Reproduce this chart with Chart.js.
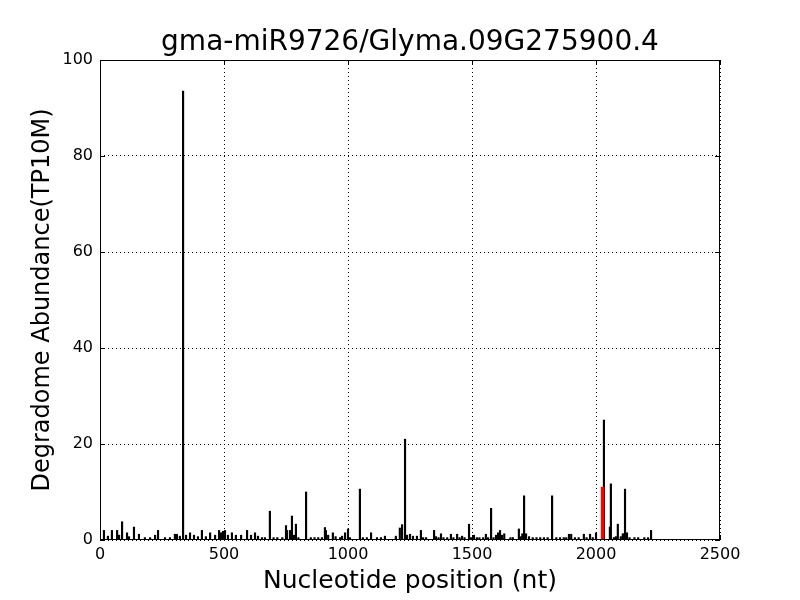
<!DOCTYPE html>
<html>
<head>
<meta charset="utf-8">
<script src="https://cdn.jsdelivr.net/npm/chart.js@4/dist/chart.umd.min.js"></script>
<style>
  html, body { margin: 0; padding: 0; background: #fff; }
  #wrap { width: 800px; height: 600px; }
</style>
</head>
<body>
<div id="wrap"><canvas id="chart" width="800" height="600"></canvas></div>
<script>
// cleavage positions (nt) and degradome abundance (TP10M)
const positions = [16, 32, 48, 69, 77, 89, 109, 117, 137, 157, 181, 202, 222, 234, 262, 282, 302, 310, 322, 335,
  347, 363, 379, 395, 411, 427, 444, 464, 480, 488, 496, 504, 516, 532, 548, 569, 593, 609, 625, 637,
  653, 665, 685, 700, 715, 735, 750, 754, 766, 774, 782, 790, 800, 831, 850, 865, 880, 895, 907, 911,
  920, 939, 950, 968, 976, 988, 1000, 1008, 1048, 1060, 1076, 1093, 1117, 1133, 1149, 1193, 1209, 1218, 1230, 1238,
  1250, 1262, 1278, 1294, 1303, 1315, 1347, 1355, 1365, 1375, 1385, 1400, 1415, 1425, 1440, 1450, 1460, 1470, 1488, 1496,
  1508, 1520, 1530, 1545, 1556, 1565, 1577, 1587, 1597, 1605, 1613, 1621, 1630, 1655, 1665, 1689, 1697, 1703, 1710, 1718,
  1730, 1745, 1760, 1775, 1790, 1805, 1823, 1840, 1855, 1870, 1880, 1891, 1900, 1915, 1930, 1951, 1962, 1976, 1987, 2000,
  2032, 2056, 2060, 2072, 2080, 2088, 2100, 2108, 2113, 2117, 2125, 2135, 2155, 2170, 2195, 2210, 2222];
const abundance = [2.0, 0.8, 2.0, 2.0, 1.0, 3.8, 1.5, 0.7, 2.7, 1.2, 0.5, 0.5, 1.0, 2.0, 0.5, 0.5, 1.2, 1.2, 0.8, 93.5,
  1.0, 1.5, 1.0, 0.7, 2.0, 0.7, 1.5, 1.0, 2.0, 1.5, 1.8, 2.0, 1.0, 1.5, 1.0, 1.0, 2.0, 1.0, 1.5, 0.8,
  0.5, 0.5, 6.0, 0.5, 0.5, 0.5, 3.0, 2.0, 2.0, 5.0, 1.0, 3.3, 0.5, 10.0, 0.5, 0.5, 0.5, 0.5, 2.6, 2.0,
  1.0, 1.5, 0.7, 0.5, 0.8, 1.5, 2.3, 0.5, 10.6, 0.5, 0.5, 1.5, 0.5, 0.5, 0.8, 0.8, 2.5, 3.2, 21.0, 1.0,
  1.2, 0.8, 0.8, 2.0, 0.5, 0.5, 2.0, 0.7, 0.5, 1.3, 0.5, 0.5, 1.2, 0.5, 1.2, 0.5, 0.8, 0.5, 3.3, 0.5,
  1.0, 0.5, 0.5, 0.5, 1.2, 0.5, 6.6, 0.5, 1.0, 1.5, 2.0, 1.0, 1.3, 0.5, 0.5, 2.3, 0.7, 1.3, 9.2, 1.3,
  0.7, 0.5, 0.5, 0.5, 0.5, 0.5, 9.2, 0.5, 0.5, 0.5, 0.5, 1.2, 1.2, 0.5, 0.5, 1.2, 0.5, 1.2, 0.5, 1.5,
  25.0, 2.7, 11.7, 0.5, 0.7, 3.3, 0.7, 1.3, 1.3, 10.6, 1.5, 0.5, 0.5, 0.5, 0.5, 0.5, 2.0];
// predicted target site
const sitePositions = [2027];
const siteAbundance = [11.0];

const xTicks = [0, 500, 1000, 1500, 2000, 2500];
const yTicks = [0, 20, 40, 60, 80, 100];
const chartTitle = 'gma-miR9726/Glyma.09G275900.4';

const FONT = "'DejaVu Sans', sans-serif";

// title centred over the plot area, frame + inward tick marks like matplotlib classic
const framePlugin = {
  id: 'frame',
  afterDraw(chart) {
    const ctx = chart.ctx;
    const a = chart.chartArea;
    const xs = chart.scales.x, ys = chart.scales.y;
    ctx.save();
    ctx.fillStyle = '#000';
    ctx.font = '28px ' + FONT;
    ctx.textAlign = 'center';
    ctx.textBaseline = 'middle';
    ctx.fillText(chartTitle, (a.left + a.right) / 2, a.top - 17);

    ctx.setLineDash([]);
    ctx.strokeStyle = '#000';
    ctx.lineWidth = 1;
    ctx.strokeRect(a.left + 0.5, a.top + 0.5, a.right - a.left - 1, a.bottom - a.top - 1);
    ctx.beginPath();
    xTicks.forEach(v => {
      const px = Math.round(xs.getPixelForValue(v)) + 0.5;
      ctx.moveTo(px, a.bottom); ctx.lineTo(px, a.bottom - 5);
      ctx.moveTo(px, a.top); ctx.lineTo(px, a.top + 5);
    });
    yTicks.forEach(v => {
      const py = Math.round(ys.getPixelForValue(v)) + 0.5;
      ctx.moveTo(a.left, py); ctx.lineTo(a.left + 5, py);
      ctx.moveTo(a.right, py); ctx.lineTo(a.right - 5, py);
    });
    ctx.stroke();
    ctx.restore();
  }
};

new Chart(document.getElementById('chart').getContext('2d'), {
  type: 'bar',
  data: {
    datasets: [
      {
        label: 'Target site',
        data: sitePositions.map((p, i) => ({ x: p, y: siteAbundance[i] })),
        backgroundColor: '#ff0000',
        borderWidth: 0,
        barThickness: 3,
        order: 0
      },
      {
        label: 'Degradome',
        data: positions.map((p, i) => ({ x: p, y: abundance[i] })),
        backgroundColor: '#000',
        borderWidth: 0,
        barThickness: 1.5,
        order: 1
      }
    ]
  },
  options: {
    responsive: false,
    animation: false,
    grouped: false,
    layout: { padding: { left: 0, right: 80, top: 60, bottom: 0 } },
    plugins: {
      legend: { display: false },
      tooltip: { enabled: false },
      title: { display: false }
    },
    scales: {
      x: {
        type: 'linear',
        min: 0,
        max: 2500,
        offset: false,
        afterFit(scale) { scale.height = 60; },
        afterBuildTicks(scale) { scale.ticks = xTicks.map(v => ({ value: v })); },
        grid: { color: '#000', lineWidth: 1, drawTicks: false, offset: false },
        border: { display: false, dash: [1, 3] },
        ticks: {
          color: '#000', padding: 5, maxRotation: 0,
          font: { family: FONT, size: 16 },
          callback: v => String(v)
        },
        title: {
          display: true,
          text: 'Nucleotide position (nt)',
          color: '#000',
          font: { family: FONT, size: 25 },
          padding: { top: 0, bottom: 4 }
        }
      },
      y: {
        min: 0,
        max: 100,
        afterFit(scale) { scale.width = 100; },
        afterBuildTicks(scale) { scale.ticks = yTicks.map(v => ({ value: v })); },
        grid: { color: '#000', lineWidth: 1, drawTicks: false },
        border: { display: false, dash: [1, 3] },
        ticks: {
          color: '#000', padding: 7,
          font: { family: FONT, size: 16 },
          callback: v => String(v)
        },
        title: {
          display: true,
          text: 'Degradome Abundance(TP10M)',
          color: '#000',
          font: { family: FONT, size: 24 },
          padding: { top: 28, bottom: 0 }
        }
      }
    }
  },
  plugins: [framePlugin]
});
</script>
</body>
</html>
